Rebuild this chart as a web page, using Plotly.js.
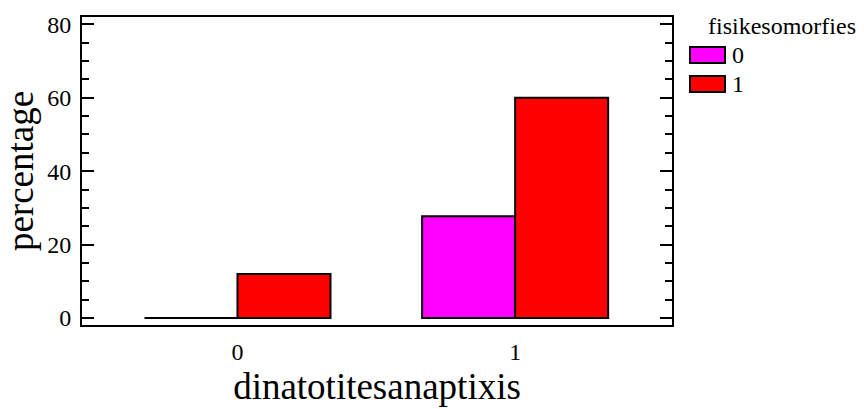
<!DOCTYPE html>
<html>
<head>
<meta charset="utf-8">
<script src="https://cdn.plot.ly/plotly-3.0.1.min.js"></script>
<style>body{margin:0;padding:0;background:#fff;}#chart{width:864px;height:409px;}</style>
</head>
<body>
<div id="chart"></div>
<script>
const categories = ['0', '1'];
const seriesNames = ['0', '1'];
const series0 = [0, 27.7];
const series1 = [12, 60];
const colors = ['#ff00ff', '#ff0000'];
const legendTitle = 'fisikesomorfies';

const font = '"Liberation Serif", "Times New Roman", serif';
const traces = [series0, series1].map((vals, i) => ({
  type: 'bar',
  name: seriesNames[i],
  x: categories,
  y: vals,
  marker: {color: colors[i], line: {color: '#000', width: 2}},
  hoverinfo: 'none',
  showlegend: false
}));

// custom legend (swatches + labels) in paper coordinates
const legX0 = 1.0305, legX1 = 1.0898, legTop = 0.9026, swH = 0.052, rowStep = 0.094;
const shapes = seriesNames.map((n, i) => ({
  type: 'rect', xref: 'paper', yref: 'paper',
  x0: legX0, x1: legX1,
  y0: legTop - i * rowStep - swH, y1: legTop - i * rowStep,
  fillcolor: colors[i], line: {color: '#000', width: 2}
}));
const annotations = [{
  xref: 'paper', yref: 'paper', x: 1.058, y: 0.972, xanchor: 'left', yanchor: 'middle',
  text: legendTitle, showarrow: false, font: {size: 24, family: font, color: '#000'}
}].concat(seriesNames.map((n, i) => ({
  xref: 'paper', yref: 'paper', x: 1.099, y: legTop - i * rowStep - swH / 2,
  xanchor: 'left', yanchor: 'middle', text: n, showarrow: false,
  font: {size: 24, family: font, color: '#000'}
})));

const layout = {
  width: 864, height: 409,
  margin: {l: 82, r: 192, t: 17, b: 84},
  paper_bgcolor: '#fff', plot_bgcolor: '#fff',
  barmode: 'group', bargap: 0.33, bargroupgap: 0,
  font: {family: font, color: '#000', size: 24},
  showlegend: false,
  shapes: shapes,
  annotations: annotations,
  xaxis: {
    type: 'category',
    range: [-0.56, 1.565],
    showline: true, linecolor: '#000', linewidth: 2, mirror: true,
    ticks: '', ticklabelstandoff: 4,
    tickfont: {size: 24, family: font},
    showgrid: false, zeroline: false,
    title: {text: 'dinatotitesanaptixis', font: {size: 37, family: font}, standoff: 9}
  },
  yaxis: {
    range: [-1.9, 82],
    tickvals: [0, 20, 40, 60, 80],
    showline: true, linecolor: '#000', linewidth: 2, mirror: 'ticks',
    ticks: 'inside', ticklen: 12, tickwidth: 2, tickcolor: '#000',
    minor: {dtick: 5, tick0: 0, ticks: 'inside', ticklen: 7, tickwidth: 2, tickcolor: '#000', showgrid: false},
    tickfont: {size: 24, family: font},
    ticklabelstandoff: 4,
    showgrid: false, zeroline: false,
    title: {text: 'percentage', font: {size: 37, family: font}, standoff: 2}
  }
};

Plotly.newPlot('chart', traces, layout, {displayModeBar: false, staticPlot: true});
</script>
</body>
</html>
